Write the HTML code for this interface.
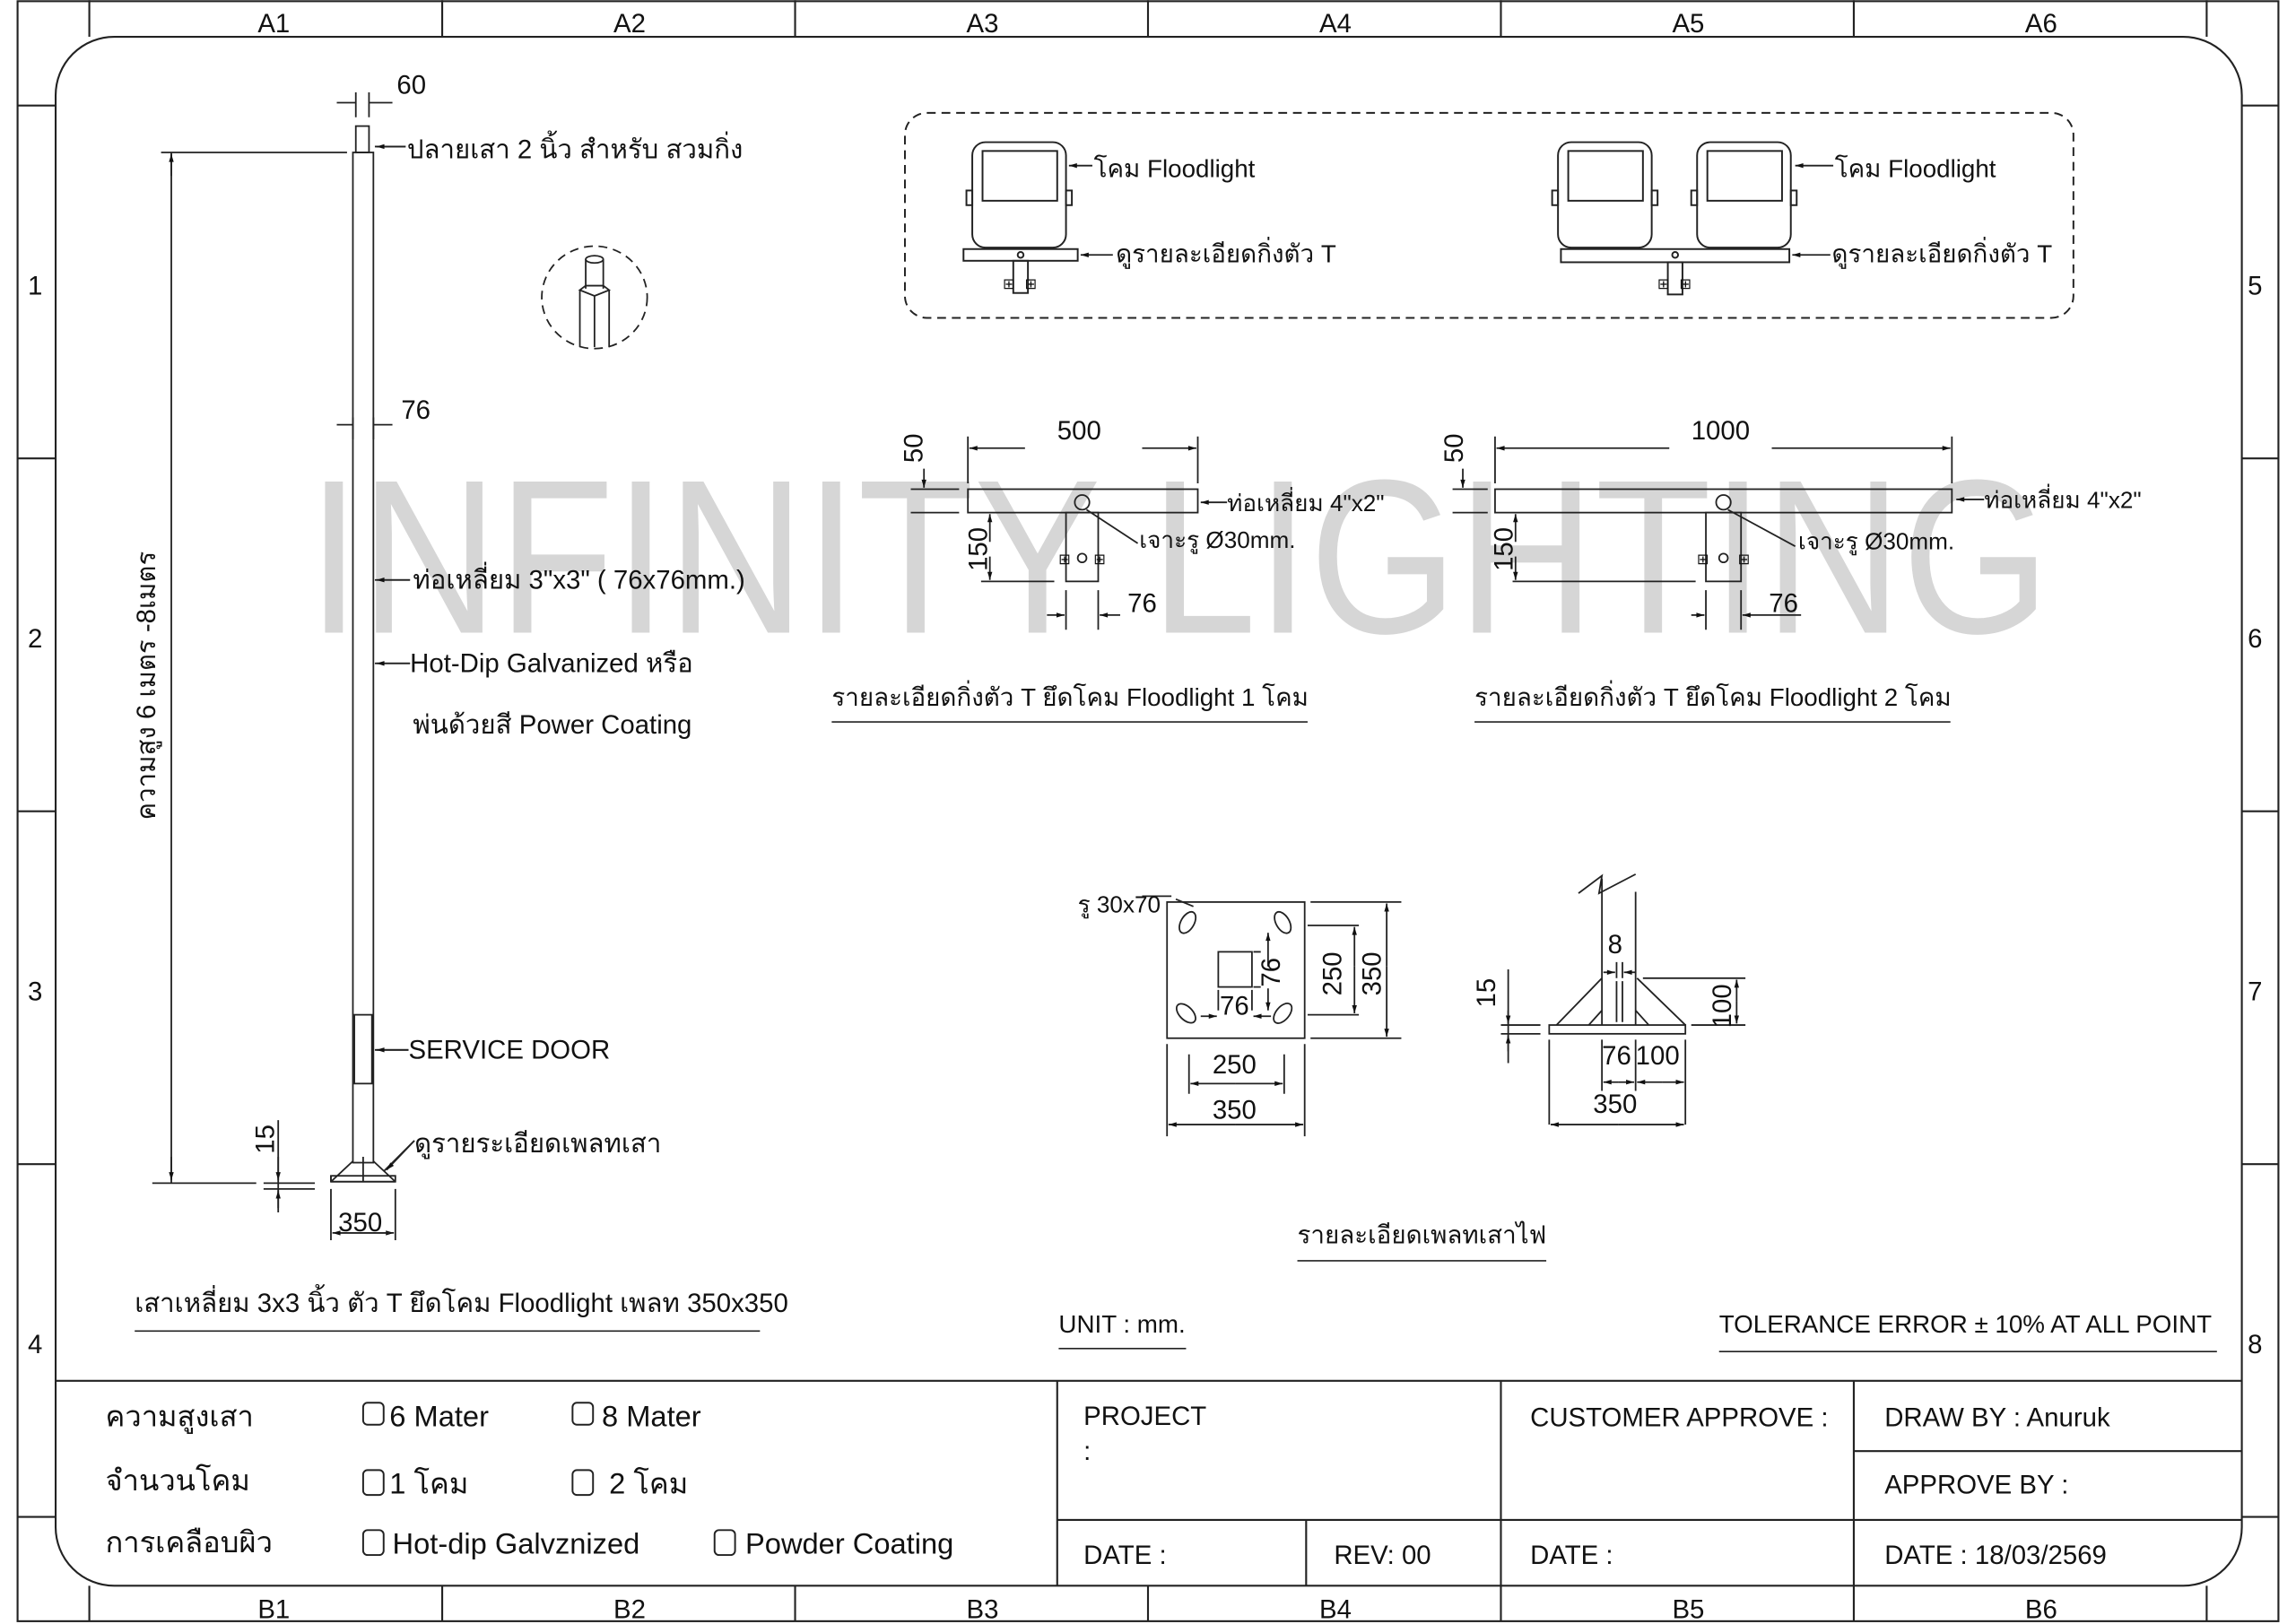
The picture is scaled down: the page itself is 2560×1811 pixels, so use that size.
<!DOCTYPE html>
<html><head><meta charset="utf-8"><style>
html,body{margin:0;padding:0;background:#fff}
svg{display:block}
text{font-family:"Liberation Sans","DejaVu Sans","Noto Sans CJK SC",sans-serif;fill:#111}
</style></head><body>
<svg width="2560" height="1811" viewBox="0 0 1568 1109" xmlns="http://www.w3.org/2000/svg">
<defs><marker id="a" viewBox="0 0 10 10" refX="10" refY="5" markerWidth="7" markerHeight="5" orient="auto-start-reverse"><path d="M0,2 L10,5 L0,8z" fill="#111"/></marker></defs>
<rect width="1568" height="1109" fill="#fff"/>
<!-- watermark -->
<text x="210" y="432" font-size="150" fill="#d6d6d6" style="fill:#d6d6d6" textLength="1190" lengthAdjust="spacingAndGlyphs">INFINITY LIGHTING</text>
<g stroke="#222" stroke-width="1.3" fill="none">
<!-- outer frame -->
<rect x="12" y="0.7" width="1544" height="1106.5"/>
<rect x="38" y="25" width="1493" height="1058" rx="40"/>
<path d="M61 0V25M302 0V25M543 0V25M784 0V25M1025 0V25M1266 0V25M1507 0V25"/>
<path d="M61 1083V1107M302 1083V1107M543 1083V1107M784 1083V1107M1025 1083V1107M1266 1083V1107M1507 1083V1107"/>
<path d="M12 72H38M12 313H38M12 554H38M12 795H38M12 1036H38M1531 72H1556M1531 313H1556M1531 554H1556M1531 795H1556M1531 1036H1556"/>
<!-- title block -->
<path d="M38 943H1531M722 943V1083M1025 943V1083M1266 943V1083M722 1038H1531M1266 991H1531M892 1038V1083"/>
</g>
<g font-size="18" text-anchor="middle">
<text x="187" y="22">A1</text><text x="430" y="22">A2</text><text x="671" y="22">A3</text><text x="912" y="22">A4</text><text x="1153" y="22">A5</text><text x="1394" y="22">A6</text>
<text x="187" y="1105">B1</text><text x="430" y="1105">B2</text><text x="671" y="1105">B3</text><text x="912" y="1105">B4</text><text x="1153" y="1105">B5</text><text x="1394" y="1105">B6</text>
<text x="24" y="201">1</text><text x="24" y="442">2</text><text x="24" y="683">3</text><text x="24" y="924">4</text>
<text x="1540" y="201">5</text><text x="1540" y="442">6</text><text x="1540" y="683">7</text><text x="1540" y="924">8</text>
</g>
<!-- title block text -->
<g font-size="20">
<text x="72" y="974">ความสูงเสา</text><text x="72" y="1018">จำนวนโคม</text><text x="72" y="1060">การเคลือบผิว</text>
<text x="266" y="974">6 Mater</text><text x="411" y="974">8 Mater</text>
<text x="266" y="1020">1 โคม</text><text x="416" y="1020">2 โคม</text>
<text x="268" y="1061">Hot-dip Galvznized</text><text x="509" y="1061">Powder Coating</text>
</g>
<g fill="none" stroke="#222" stroke-width="1.2">
<rect x="248" y="958" width="14" height="15" rx="3"/><rect x="391" y="958" width="14" height="15" rx="3"/>
<rect x="248" y="1004" width="14" height="17" rx="3"/><rect x="391" y="1004" width="14" height="17" rx="3"/>
<rect x="248" y="1045" width="14" height="17" rx="3"/><rect x="488" y="1045" width="14" height="17" rx="3"/>
</g>
<g font-size="18">
<text x="740" y="973">PROJECT</text><text x="740" y="997">:</text>
<text x="740" y="1068">DATE :</text><text x="911" y="1068">REV: 00</text>
<text x="1045" y="974">CUSTOMER APPROVE :</text><text x="1045" y="1068">DATE :</text>
<text x="1287" y="974">DRAW BY : Anuruk</text><text x="1287" y="1020">APPROVE BY :</text><text x="1287" y="1068">DATE : 18/03/2569</text>
</g>
<!-- Pole -->
<g stroke="#222" stroke-width="1.1" fill="none">
<rect x="243" y="86" width="9" height="18"/>
<rect x="241" y="104" width="14" height="690"/>
<rect x="242" y="693" width="12" height="47"/>
<path d="M226 807L241 793M270 807L255 793M226 807H270M226 807V803M248 790V807"/>
<rect x="226" y="803" width="44" height="4"/>
<path d="M243 63V80M252 63V80M230 70H243M268 70H252" />
<path d="M110 104H237M117 808V104M104 808H175M180 808H215M180 812H215M190 765V828"/>
<path d="M226 812V847M270 812V847"/>
<path d="M241 285V300M255 285V300M230 290H241M268 290H255"/>
<path d="M277 100H256M280 396H256M280 453H256M279 717H256M283 779L262 800"/>
<ellipse cx="406" cy="203" rx="36" ry="35" stroke-dasharray="6 4"/>
<path d="M400 177V197M412 177V197M396 198L400 195H412L416 198L406 202ZM396 198V237M416 198V237M406 202V237"/>
<ellipse cx="406" cy="177" rx="6" ry="2.5"/>
</g>
<g stroke="#222" stroke-width="1.1" fill="none" marker-end="url(#a)">
<path d="M277 100H257"/><path d="M280 396H257"/><path d="M280 453H257"/><path d="M279 717H257"/><path d="M283 779L264 799"/>
<path d="M117 790V806"/><path d="M117 120V105"/><path d="M190 790V806"/><path d="M190 825V813"/>
<path d="M230 842H269"/><path d="M266 842H227"/>
</g>
<g font-size="18">
<text x="271" y="64">60</text>
<text x="278" y="108">ปลายเสา 2 นิ้ว สำหรับ สวมกิ่ง</text>
<text x="274" y="286">76</text>
<text x="282" y="402">ท่อเหลี่ยม 3"x3" ( 76x76mm.)</text>
<text x="280" y="459">Hot-Dip Galvanized หรือ</text>
<text x="282" y="501">พ่นด้วยสี Power Coating</text>
<text x="279" y="723">SERVICE DOOR</text>
<text x="283" y="787">ดูรายระเอียดเพลทเสา</text>
<text x="231" y="841">350</text>
<text transform="translate(187,788) rotate(-90)">15</text>
<text transform="translate(106,560) rotate(-90)">ความสูง  6 เมตร -8เมตร</text>
<text x="92" y="896">เสาเหลี่ยม 3x3 นิ้ว ตัว T ยึดโคม Floodlight เพลท 350x350</text>
</g>
<path d="M92 909H519" stroke="#222" stroke-width="1"/>
<!-- floodlight box -->
<g stroke="#222" stroke-width="1.2" fill="none">
<rect x="618" y="77" width="798" height="140" rx="15" stroke-dasharray="6 4"/>
<rect x="664" y="97" width="64" height="72" rx="9"/><rect x="671" y="103" width="51" height="34"/>
<rect x="660" y="130" width="4" height="10"/><rect x="728" y="130" width="4" height="10"/>
<rect x="658" y="170" width="78" height="8"/><circle cx="697" cy="174" r="2"/>
<rect x="692" y="178" width="10" height="22"/>
<rect x="1064" y="97" width="64" height="72" rx="9"/><rect x="1071" y="103" width="51" height="34"/>
<rect x="1060" y="130" width="4" height="10"/><rect x="1128" y="130" width="4" height="10"/>
<rect x="1159" y="97" width="64" height="72" rx="9"/><rect x="1166" y="103" width="51" height="34"/>
<rect x="1155" y="130" width="4" height="10"/><rect x="1223" y="130" width="4" height="10"/>
<rect x="1066" y="170" width="156" height="9"/><circle cx="1144" cy="174" r="2"/>
<rect x="1139" y="179" width="10" height="22"/>
</g>
<g stroke="#222" stroke-width="1.1" fill="none" marker-end="url(#a)">
<path d="M746 113H730"/><path d="M760 174H738"/><path d="M1252 113H1226"/><path d="M1250 174H1224"/>
</g>
<g font-size="17">
<text x="747" y="121">โคม Floodlight</text><text x="762" y="179">ดูรายละเอียดกิ่งตัว T</text>
<text x="1253" y="121">โคม Floodlight</text><text x="1251" y="179">ดูรายละเอียดกิ่งตัว T</text>
</g>
<!-- T details -->
<g stroke="#222" stroke-width="1.1" fill="none">
<rect x="661" y="334" width="157" height="16"/><rect x="728" y="350" width="22" height="47"/>
<circle cx="739" cy="343" r="5"/><circle cx="739" cy="381" r="3"/>
<path d="M661 298V330M818 298V330M622 334H655M622 350H655M670 397H720M728 403V430M750 403V430M742 348L777 371"/>
<rect x="1021" y="334" width="312" height="16"/><rect x="1165" y="350" width="24" height="47"/>
<circle cx="1177" cy="343" r="5"/><circle cx="1177" cy="381" r="3"/>
<path d="M1021 298V330M1333 298V330M992 334H1016M992 350H1016M1033 397H1158M1165 403V430M1189 403V430M1180 348L1226 373"/>
</g>
<g stroke="#222" stroke-width="1.1" fill="none" marker-end="url(#a)">
<path d="M700 306H662"/><path d="M780 306H817"/><path d="M631 320V333"/><path d="M676 370V351"/><path d="M676 380V396"/>
<path d="M715 420H727"/><path d="M765 420H751"/><path d="M838 343H820"/>
<path d="M1140 306H1022"/><path d="M1210 306H1332"/><path d="M999 320V333"/><path d="M1035 370V351"/><path d="M1035 380V396"/>
<path d="M1155 420H1164"/><path d="M1230 420H1190"/><path d="M1355 341H1336"/>
</g>
<g font-size="18">
<text x="722" y="300">500</text><text x="1155" y="300">1000</text>
<text transform="translate(630,316) rotate(-90)">50</text><text transform="translate(999,316) rotate(-90)">50</text>
<text transform="translate(674,390) rotate(-90)">150</text><text transform="translate(1033,390) rotate(-90)">150</text>
<text x="770" y="418">76</text><text x="1208" y="418">76</text>
<text x="838" y="349" font-size="16">ท่อเหลี่ยม 4"x2"</text><text x="1355" y="347" font-size="16">ท่อเหลี่ยม 4"x2"</text>
<text x="778" y="374" font-size="16">เจาะรู Ø30mm.</text><text x="1228" y="375" font-size="16">เจาะรู Ø30mm.</text>
<text x="568" y="482" font-size="17">รายละเอียดกิ่งตัว T ยึดโคม Floodlight 1 โคม</text>
<text x="1007" y="482" font-size="17">รายละเอียดกิ่งตัว T ยึดโคม Floodlight 2 โคม</text>
</g>
<path d="M568 493H893M1007 493H1332" stroke="#222" stroke-width="1"/>
<g font-size="10" text-anchor="middle"><text x="727" y="385">⊞</text><text x="751" y="385">⊞</text><text x="1163" y="385">⊞</text><text x="1191" y="385">⊞</text>
<text x="689" y="197">⊞</text><text x="704" y="197">⊞</text><text x="1136" y="197">⊞</text><text x="1151" y="197">⊞</text></g>
<!-- plate top view -->
<g stroke="#222" stroke-width="1.1" fill="none">
<rect x="797" y="616" width="94" height="93"/><rect x="832" y="650" width="23" height="24"/>
<ellipse cx="811" cy="630" rx="4.5" ry="8" transform="rotate(30 811 630)"/>
<ellipse cx="876" cy="630" rx="4.5" ry="8" transform="rotate(-30 876 630)"/>
<ellipse cx="810" cy="692" rx="4.5" ry="8" transform="rotate(-45 810 692)"/>
<ellipse cx="876" cy="692" rx="4.5" ry="8" transform="rotate(40 876 692)"/>
<path d="M895 616H957M895 709H957M893 632H928M893 693H928M797 713V776M891 713V776M812 720V747M877 720V747M832 676V690M855 676V690M856 650H861M856 674H861"/>
<path d="M815 619L803 614M780 612H800"/>
<path d="M1094 600V700M1117 609V700M1078 610L1094 598L1092 610L1117 597M1063 700L1094 668M1151 700L1118 668M1085 700L1094 690M1126 700L1117 690"/>
<rect x="1058" y="700" width="93" height="6"/>
<path d="M1104 670V698M1108 670V698M1104 657V668M1108 657V668M1122 668H1192M1155 700H1192M1025 700H1052M1025 706H1052M1058 710V768M1151 710V768M1094 710V745M1117 710V745M1030 662V726"/>
</g>
<g stroke="#222" stroke-width="1.1" fill="none" marker-end="url(#a)">
<path d="M947 660V617"/><path d="M947 660V708"/><path d="M925 660V633"/><path d="M925 660V692"/>
<path d="M844 740H813"/><path d="M844 740H876"/><path d="M844 768H798"/><path d="M844 768H890"/>
<path d="M866 660V637"/><path d="M866 675V690"/><path d="M820 694H831"/><path d="M868 694H856"/>
<path d="M1186 684V669"/><path d="M1186 684V699"/><path d="M1105 768H1059"/><path d="M1105 768H1150"/>
<path d="M1105 739H1095"/><path d="M1105 739H1116"/><path d="M1135 739H1118"/><path d="M1135 739H1150"/>
<path d="M1095 664H1103"/><path d="M1117 664H1109"/><path d="M1030 690V699"/><path d="M1030 718V707"/>
</g>
<g font-size="18">
<text x="828" y="733">250</text><text x="828" y="764">350</text>
<text transform="translate(916,680) rotate(-90)">250</text><text transform="translate(943,680) rotate(-90)">350</text>
<text transform="translate(874,674) rotate(-90)">76</text><text x="833" y="693">76</text>
<text x="736" y="623" font-size="16">รู 30x70</text>
<text x="1098" y="651">8</text>
<text transform="translate(1021,688) rotate(-90)">15</text>
<text transform="translate(1182,702) rotate(-90)">100</text>
<text x="1094" y="727">76</text><text x="1117" y="727">100</text>
<text x="1088" y="760">350</text>
<text x="886" y="849" font-size="17">รายละเอียดเพลทเสาไฟ</text>
<text x="723" y="910" font-size="17">UNIT : mm.</text>
<text x="1174" y="910" font-size="17">TOLERANCE ERROR ± 10% AT ALL POINT</text>
</g>
<path d="M886 861H1056M723 921H810M1174 923H1514" stroke="#222" stroke-width="1"/>
</svg>
</body></html>
